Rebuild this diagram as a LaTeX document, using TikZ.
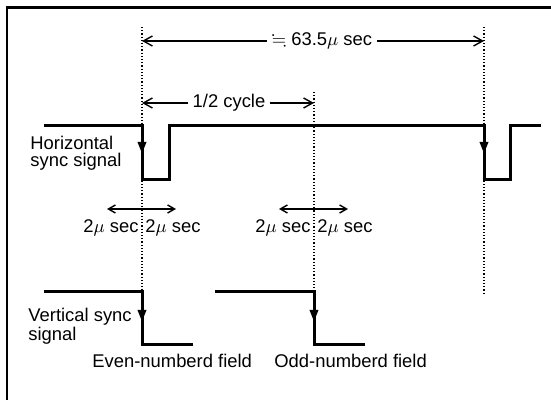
\documentclass[tikz,border=0pt]{standalone}
\usepackage{amssymb}
\usepackage{fontspec}
\setmainfont{Liberation Sans}
\usetikzlibrary{arrows.meta,positioning,calc}

\begin{document}
\begin{tikzpicture}[x=0.5pt, y=-0.5pt,
  every node/.style={font=\fontsize{9.2}{8.4}\selectfont, inner sep=0pt},
  sig/.style={line width=1.5pt},
  guide/.style={densely dotted, line width=0.6pt},
  dim/.style={line width=0.7pt, -{Straight Barb[length=4.5pt,width=5pt]}},
  both/.style={line width=0.7pt, {Straight Barb[length=3.5pt,width=4pt]}-{Straight Barb[length=3.5pt,width=4pt]}},
  fall/.style={line width=1.5pt, -{Triangle[length=6pt,width=4pt]}}]
  \useasboundingbox (0,0) rectangle (551,400);
  % frame, top and left edge only
  \draw[line width=1.4pt] (551,7.5) -- (7,7.5) -- (7,400);

  % dotted time marks
  \coordinate (m0) at (142,27);
  \coordinate (m1) at (314,92);
  \coordinate (m2) at (484,27);
  \draw[guide] (m0) -- (142,292);
  \draw[guide] (m1) -- (314,292);
  \draw[guide] (m2) -- (484,294);

  % period and half cycle
  \node[inner xsep=2.5pt] (period) at (322,41) {$\fallingdotseq$ 63.5$\mu$ sec};
  \draw[dim] (period.west) -- (m0 |- period);
  \draw[dim] (period.east) -- (m2 |- period);
  \node[inner xsep=2pt] (half) at (229,103) {1/2 cycle};
  \draw[dim] (half.west) -- (m0 |- half);
  \draw[dim] (half.east) -- (m1 |- half);

  % horizontal sync
  \draw[sig] (44,126) -- (142,126) -- (142,180) -- (169,180) -- (169,126)
    -- (484,126) -- (484,180) -- (510,180) -- (510,126) -- (541,126);
  \draw[fall] (142,126) -- (142,154);
  \draw[fall] (484,126) -- (484,154);
  \node[anchor=north west, align=left] (hlabel) at (30,136) {Horizontal\\sync signal};

  % 2 usec windows
  \draw[both] (107,209) -- (176,209);
  \draw[both] (279,209) -- (348,209);
  \node[anchor=base east] (w0l) at (139,233) {2$\mu$ sec};
  \node[anchor=base west] (w0r) at (145,233) {2$\mu$ sec};
  \node[anchor=base east] (w1l) at (311,233) {2$\mu$ sec};
  \node[anchor=base west] (w1r) at (317,233) {2$\mu$ sec};

  % vertical sync
  \draw[sig] (44,292) -- (142,292) -- (142,345) -- (193,345);
  \draw[sig] (215,292) -- (314,292) -- (314,345) -- (365,345);
  \draw[fall] (142,292) -- (142,322);
  \draw[fall] (314,292) -- (314,322);
  \node[anchor=north west, align=left] (vlabel) at (28,308) {Vertical sync\\signal};
  \node[anchor=base west] (even) at (92,367) {Even-numberd field};
  \node[anchor=base west] (odd) at (274,367) {Odd-numberd field};
\end{tikzpicture}
\end{document}
